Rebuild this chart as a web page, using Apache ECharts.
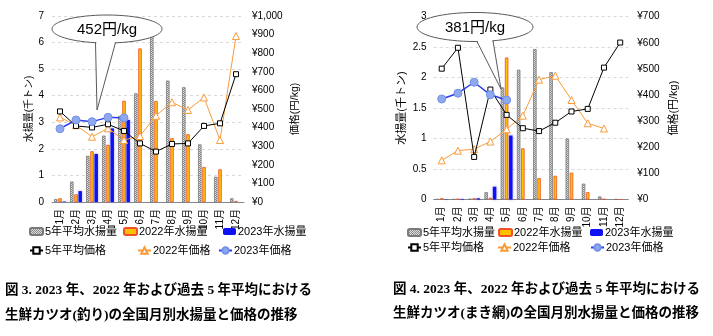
<!DOCTYPE html>
<html><head><meta charset="utf-8">
<script src="https://cdn.jsdelivr.net/npm/echarts/dist/echarts.min.js"></script>
<style>html,body{margin:0;padding:0;background:#fff}#c{width:713px;height:336px}</style>
</head><body><div id="c"></div>
<script>
// ---- data ----
const months = ['1月','2月','3月','4月','5月','6月','7月','8月','9月','10月','11月','12月'];
// Chart A: 生鮮カツオ(釣り)
const landAvgA   = [0.11,0.77,1.74,2.50,3.24,4.09,6.37,4.57,4.32,2.17,0.95,0.14];
const land2022A  = [0.14,0.29,1.91,2.15,3.81,5.78,3.80,2.40,2.55,1.32,1.23,0.04];
const land2023A  = [0.02,0.41,1.81,2.77,3.09,null,null,null,null,null,null,null];
const priceAvgA  = [487,409,401,418,382,315,271,312,315,409,423,687];
const price2022A = [455,413,351,396,333,355,464,536,495,562,333,892];
const price2023A = [394,441,432,455,452,null,null,null,null,null,null,null];
const calloutA = '452円/kg';
const captionA = ['図 3. 2023 年、2022 年および過去 5 年平均における','生鮮カツオ(釣り)の全国月別水揚量と価格の推移'];
// Chart B: 生鮮カツオ(まき網)
const landAvgB   = [0.005,0.005,0.01,0.12,1.84,2.13,2.47,2.09,1.00,0.26,0.05,0.005];
const land2022B  = [0.02,0.01,0.02,0.03,2.33,0.84,0.35,0.39,0.44,0.12,0.01,0];
const land2023B  = [0.005,0.01,0.02,0.21,1.05,null,null,null,null,null,null,null];
const priceAvgB  = [501,581,163,421,324,273,262,294,337,347,505,601];
const price2022B = [150,187,193,222,269,321,459,474,381,292,272,null];
const price2023B = [385,407,449,401,381,null,null,null,null,null,null,null];
const calloutB = '381円/kg';
const captionB = ['図 4. 2023 年、2022 年および過去 5 年平均における','生鮮カツオ(まき網)の全国月別水揚量と価格の推移'];
const seriesNames = ['5年平均水揚量','2022年水揚量','2023年水揚量','5年平均価格','2022年価格','2023年価格'];

// ---- styles ----
function makePattern(){
  const c=document.createElement('canvas');c.width=2;c.height=2;
  const g=c.getContext('2d');g.fillStyle='#dcdcdc';g.fillRect(0,0,2,2);
  g.fillStyle='#8c8c8c';g.fillRect(0,0,1,1);g.fillRect(1,1,1,1);return c;
}
const grayPat = {image: makePattern(), repeat:'repeat'};
const FONT = "'Liberation Sans','Noto Sans CJK JP',sans-serif";
const CAPFONT = "'Liberation Serif','Noto Sans CJK JP',serif";

function yen(v){return '¥'+v.toLocaleString('en-US');}

function buildSeries(xi, yl, yr, lAvg, l22, l23, pAvg, p22, p23){
  const bw=3.5;
  return [
    {name:seriesNames[0],type:'bar',xAxisIndex:xi,yAxisIndex:yl,data:lAvg,barWidth:bw,barGap:'20%',
     itemStyle:{color:grayPat,borderColor:'#7a7a7a',borderWidth:0.8}},
    {name:seriesNames[1],type:'bar',xAxisIndex:xi,yAxisIndex:yl,data:l22,barWidth:bw,barGap:'20%',
     itemStyle:{color:'#FFC000',borderColor:'#F0502A',borderWidth:0.8}},
    {name:seriesNames[2],type:'bar',xAxisIndex:xi,yAxisIndex:yl,data:l23,barWidth:bw,barGap:'20%',
     itemStyle:{color:'#1010F5',shadowBlur:3,shadowColor:'rgba(60,60,255,0.5)'}},
    {name:seriesNames[3],type:'line',xAxisIndex:xi,yAxisIndex:yr,data:pAvg,symbol:'rect',symbolSize:5,
     lineStyle:{color:'#000',width:1},itemStyle:{color:'#fff',borderColor:'#000',borderWidth:1},z:5},
    {name:seriesNames[4],type:'line',xAxisIndex:xi,yAxisIndex:yr,data:p22,symbol:'triangle',symbolSize:7,
     lineStyle:{color:'#F99B3A',width:1},itemStyle:{color:'#fff',borderColor:'#F99B3A',borderWidth:1},z:4},
    {name:seriesNames[5],type:'line',xAxisIndex:xi,yAxisIndex:yr,data:p23,symbol:'circle',symbolSize:8,
     lineStyle:{color:'#2B3BF0',width:1.5},itemStyle:{color:'#8EA9EE',borderColor:'#7391E6',borderWidth:1},z:6}
  ];
}

function legends(positions, fs){
  return positions.map((p,i)=>({
    data:[seriesNames[i]], left:p[0], top:p[1], itemWidth:13, itemHeight: i<3?7:8, itemGap:0,
    textStyle:{fontSize:fs,color:'#000',fontFamily:FONT,padding:[0,0,0,-3]}, padding:0, selectedMode:false
  }));
}

function callout(cx,cy,rx,ry,b1,b2,tip,text){
  return [
    {type:'ellipse',z:100,shape:{cx:cx,cy:cy,rx:rx,ry:ry},style:{fill:'#fff',stroke:'#595959',lineWidth:1}},
    {type:'polygon',z:101,shape:{points:[[b1[0]+0.8,b1[1]-3],[b2[0]-0.8,b2[1]-3],[b2[0]-0.8,b2[1]+0.8],[tip[0],tip[1]-2],[b1[0]+0.8,b1[1]+0.8]]},style:{fill:'#fff'}},
    {type:'polyline',z:102,shape:{points:[b1,tip,b2]},style:{stroke:'#595959',fill:null,lineWidth:1}},
    {type:'text',z:103,style:{text:text,x:cx,y:cy+1,textAlign:'center',textVerticalAlign:'middle',fontSize:15,fill:'#000',fontFamily:FONT}}
  ];
}

function caption(x,y1,y2,lines){
  return lines.map((t,i)=>({type:'text',z:100,style:{text:t,x:x,y:i?y2:y1,textVerticalAlign:'middle',
    font:"bold 13.5px "+CAPFONT,fill:'#000'}}));
}

const xAx = (gi)=>({type:'category',gridIndex:gi,data:months,
  axisLine:{lineStyle:{color:'#888',width:1}},axisTick:{show:false},
  axisLabel:{rotate:90,interval:0,fontSize:10,color:'#000',margin:7,fontFamily:FONT}});
const split = {show:true,lineStyle:{type:[3,3],color:'#d9d9d9',width:1}};

const option = {
  animation:false,
  textStyle:{fontFamily:FONT},
  grid:[
    {left:52,top:16,width:192,height:186},
    {left:433.6,top:16.7,width:194.7,height:182.8}
  ],
  xAxis:[xAx(0),xAx(1)],
  yAxis:[
    {type:'value',gridIndex:0,min:0,max:7,interval:1,position:'left',splitLine:split,
     axisLine:{show:false},axisTick:{show:false},
     axisLabel:{fontSize:10,color:'#000',margin:8},
     name:'水揚量(千トン)',nameLocation:'middle',nameGap:17,nameRotate:90,nameTextStyle:{fontSize:10,color:'#000'}},
    {type:'value',gridIndex:0,min:0,max:1000,interval:100,position:'right',splitLine:{show:false},
     axisLine:{show:false},axisTick:{show:false},
     axisLabel:{fontSize:10,color:'#000',margin:8,formatter:yen},
     name:'価格(円/kg)',nameLocation:'middle',nameGap:46,nameRotate:90,nameTextStyle:{fontSize:10.5,color:'#000'}},
    {type:'value',gridIndex:1,min:0,max:3,interval:0.5,position:'left',splitLine:split,
     axisLine:{show:false},axisTick:{show:false},
     axisLabel:{fontSize:10,color:'#000',margin:7},
     name:'水揚量(千トン)',nameLocation:'middle',nameGap:26,nameRotate:90,nameTextStyle:{fontSize:11,color:'#000'}},
    {type:'value',gridIndex:1,min:0,max:700,interval:100,position:'right',splitLine:{show:false},
     axisLine:{show:false},axisTick:{show:false},
     axisLabel:{fontSize:10,color:'#000',margin:9,formatter:yen},
     name:'価格(円/kg)',nameLocation:'middle',nameGap:40,nameRotate:90,nameTextStyle:{fontSize:11,color:'#000'}}
  ],
  legend:[
    ...legends([[29,226],[123,226],[223,226],[29,245],[137,245],[218,245]],11),
    ...legends([[407,227],[498,227],[590,227],[407,242],[497,242],[590,242]],11)
  ],
  series:[
    ...buildSeries(0,0,1,landAvgA,land2022A,land2023A,priceAvgA,price2022A,price2023A),
    ...buildSeries(1,2,3,landAvgB,land2022B,land2023B,priceAvgB,price2022B,price2023B)
  ],
  graphic:[
    ...callout(107,29,55,14,[95.5,42.6],[115.5,42.7],[97,110],calloutA),
    ...callout(475,27,58,14.5,[477,41.5],[493,40.8],[501,89],calloutB),
    ...caption(5,291,316,captionA),
    ...caption(393,290,314,captionB)
  ]
};
const chart = echarts.init(document.getElementById('c'),null,{renderer:'canvas'});
chart.setOption(option);
</script></body></html>
